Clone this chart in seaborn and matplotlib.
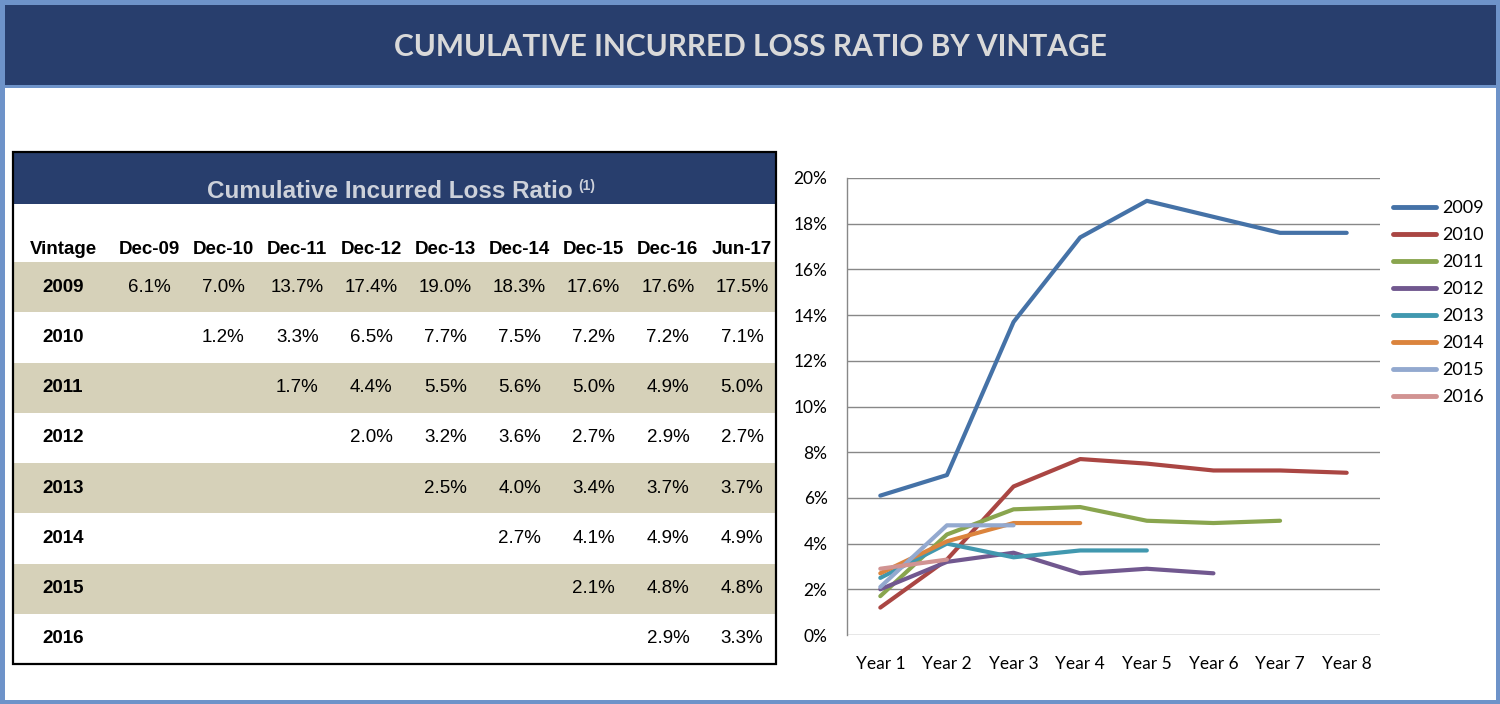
import numpy as np
import pandas as pd
import seaborn as sns
import matplotlib.pyplot as plt
from matplotlib.patches import Rectangle
from matplotlib.ticker import PercentFormatter

# Data
vintages = ['2009', '2010', '2011', '2012', '2013', '2014', '2015', '2016']
periods = ['Dec-09', 'Dec-10', 'Dec-11', 'Dec-12', 'Dec-13', 'Dec-14', 'Dec-15', 'Dec-16', 'Jun-17']
years = ['Year 1', 'Year 2', 'Year 3', 'Year 4', 'Year 5', 'Year 6', 'Year 7', 'Year 8']

lr_2009 = [6.1, 7.0, 13.7, 17.4, 19.0, 18.3, 17.6, 17.6, 17.5]
lr_2010 = [1.2, 3.3, 6.5, 7.7, 7.5, 7.2, 7.2, 7.1]
lr_2011 = [1.7, 4.4, 5.5, 5.6, 5.0, 4.9, 5.0]
lr_2012 = [2.0, 3.2, 3.6, 2.7, 2.9, 2.7]
lr_2013 = [2.5, 4.0, 3.4, 3.7, 3.7]
lr_2014 = [2.7, 4.1, 4.9, 4.9]
lr_2015 = [2.1, 4.8, 4.8]
lr_2016 = [2.9, 3.3]
ratios = [lr_2009, lr_2010, lr_2011, lr_2012, lr_2013, lr_2014, lr_2015, lr_2016]

line_colors = ['#4572a7', '#aa4643', '#89a54e', '#71588f',
               '#4198af', '#db843d', '#93a9cf', '#d19392']

W, H = 1500, 704
navy = '#283e6d'
frame_blue = '#6e93c9'
beige = '#d6d1b9'

plt.rcParams['font.family'] = ['Liberation Sans', 'DejaVu Sans']

fig = plt.figure(figsize=(W / 100, H / 100), dpi=100)
fig.patch.set_facecolor(frame_blue)

# background layer in pixel coordinates
bg = fig.add_axes([0, 0, 1, 1])
bg.set_xlim(0, W)
bg.set_ylim(H, 0)
bg.axis('off')

bg.add_patch(Rectangle((5, 5), 1491, 80, facecolor=navy, edgecolor='none'))
bg.add_patch(Rectangle((5, 88), 1491, 612, facecolor='white', edgecolor='none'))
bg.text(750, 47, 'CUMULATIVE INCURRED LOSS RATIO BY VINTAGE', ha='center', va='center',
        color='#d9d9d9', fontsize=21.5, fontweight='bold', family=['Lato', 'DejaVu Sans'])

# ---- table ----
tx0, tx1, ty0, ty1 = 13, 776, 152, 664
row_top = 262
row_h = (ty1 - row_top) / len(vintages)
bg.add_patch(Rectangle((tx0, ty0), tx1 - tx0, 52, facecolor=navy, edgecolor='none'))
for i in range(len(vintages)):
    if i % 2 == 0:
        bg.add_patch(Rectangle((tx0, row_top + i * row_h), tx1 - tx0, row_h,
                               facecolor=beige, edgecolor='none'))
bg.add_patch(Rectangle((tx0, ty0), tx1 - tx0, ty1 - ty0, facecolor='none',
                       edgecolor='black', linewidth=1.6))

bg.text(390, 191, 'Cumulative Incurred Loss Ratio', ha='center', va='center',
        color='#cdd1da', fontsize=17.5, fontweight='bold')
bg.text(578, 186, '(1)', ha='left', va='center', color='#cdd1da', fontsize=10, fontweight='bold')

col_x = np.linspace(149, 742, len(periods))
vint_x = 63
bg.text(vint_x, 250, 'Vintage', ha='center', va='center', fontsize=13.5, fontweight='bold')
for x, p in zip(col_x, periods):
    bg.text(x, 250, p, ha='center', va='center', fontsize=13.5, fontweight='bold')

for i, (v, vals) in enumerate(zip(vintages, ratios)):
    yc = row_top + (i + 0.5) * row_h
    bg.text(vint_x, yc, v, ha='center', va='center', fontsize=13.5, fontweight='bold')
    start = len(periods) - len(vals)
    for k, val in enumerate(vals):
        bg.text(col_x[start + k], yc, f'{val:.1f}%', ha='center', va='center', fontsize=13.5)

# ---- line chart ----
rows = []
for v, vals in zip(vintages, ratios):
    for k, val in enumerate(vals[:len(years)]):
        rows.append({'vintage': v, 'year': k, 'ratio': val / 100})
df = pd.DataFrame(rows)

ax_l, ax_r, ax_t, ax_b = 847, 1380, 178, 635
ax = fig.add_axes([ax_l / W, 1 - ax_b / H, (ax_r - ax_l) / W, (ax_b - ax_t) / H])
ax.set_facecolor('none')

sns.lineplot(data=df, x='year', y='ratio', hue='vintage', hue_order=vintages,
             palette=line_colors, linewidth=3, errorbar=None, sort=False,
             solid_capstyle='round', ax=ax)

ax.set_xlim(-0.5, len(years) - 0.5)
ax.set_ylim(0, 0.20)
ax.set_xticks(range(len(years)))
ax.set_xticklabels(years)
ax.set_yticks(np.arange(0, 0.201, 0.02))
ax.yaxis.set_major_formatter(PercentFormatter(1, decimals=0))
ax.set_xlabel('')
ax.set_ylabel('')
ax.grid(axis='y', color='#888888', linewidth=1)
ax.grid(axis='x', visible=False)
ax.set_axisbelow(True)
for s in ['top', 'right', 'bottom']:
    ax.spines[s].set_visible(False)
ax.spines['left'].set_color('#888888')
ax.spines['left'].set_linewidth(1)
ax.tick_params(axis='both', length=0, labelsize=12.5, colors='#000000')
ax.tick_params(axis='y', pad=14)
ax.tick_params(axis='x', pad=15)
for lab in ax.get_xticklabels() + ax.get_yticklabels():
    lab.set_family(['Lato', 'DejaVu Sans'])

sns.move_legend(ax, loc='upper left', bbox_to_anchor=(1393 / W, 1 - 200 / H),
                bbox_transform=fig.transFigure, frameon=False, title=None,
                handlelength=2.4, handletextpad=0.3, labelspacing=0.61,
                borderpad=0, borderaxespad=0, prop={'family': ['Lato', 'DejaVu Sans'], 'size': 13})
leg = ax.get_legend()
for h in leg.legend_handles:
    h.set_linewidth(3.5)
    h.set_solid_capstyle('round')

fig.savefig('out.png', dpi=100, facecolor=fig.get_facecolor())
